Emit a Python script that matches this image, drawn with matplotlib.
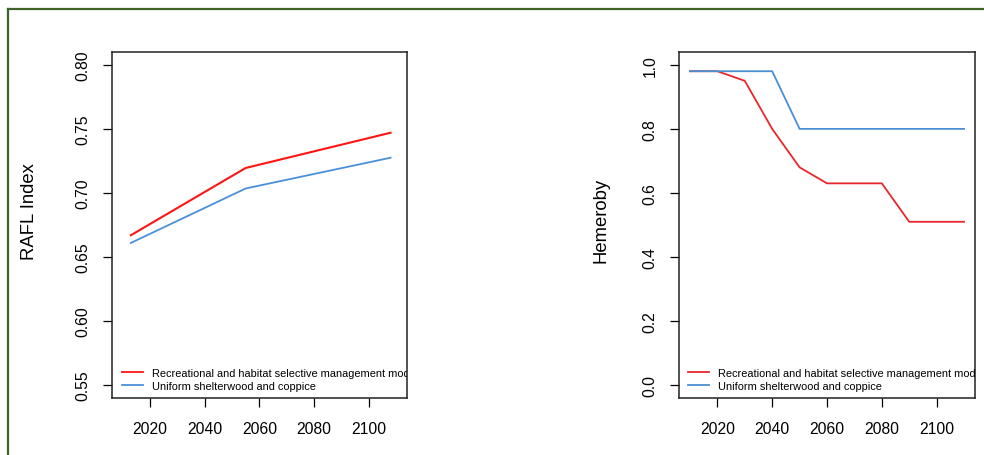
import matplotlib
matplotlib.use("Agg")
import matplotlib.pyplot as plt
from matplotlib.lines import Line2D

plt.rcParams['font.family'] = ['Liberation Sans', 'DejaVu Sans']

# ---- data ----
rafl_years = [2013, 2055, 2108]
rafl_recreational = [0.667, 0.7195, 0.747]
rafl_uniform = [0.661, 0.7035, 0.7275]

hem_years = [2010, 2020, 2030, 2040, 2050, 2060, 2070, 2080, 2090, 2100, 2110]
hem_recreational = [0.98, 0.98, 0.95, 0.80, 0.68, 0.63, 0.63, 0.63, 0.51, 0.51, 0.51]
hem_uniform = [0.98, 0.98, 0.98, 0.98, 0.80, 0.80, 0.80, 0.80, 0.80, 0.80, 0.80]

x_ticks = [2020, 2040, 2060, 2080, 2100]
rafl_yticks = [0.55, 0.60, 0.65, 0.70, 0.75, 0.80]
hem_yticks = [0.0, 0.2, 0.4, 0.6, 0.8, 1.0]

label_rec = "Recreational and habitat selective management mode"
label_uni = "Uniform shelterwood and coppice"

W, H = 984, 456
fig = plt.figure(figsize=(W / 100, H / 100), dpi=100)

# green frame
fig.add_artist(Line2D([8 / W, 8 / W], [0, 1 - 9.5 / H], transform=fig.transFigure,
                      color='#3e6428', lw=1.6))
fig.add_artist(Line2D([8 / W, 1], [1 - 9.5 / H, 1 - 9.5 / H], transform=fig.transFigure,
                      color='#3e6428', lw=1.6))


def style(ax, yticks, ylim):
    ax.set_xlim(2006, 2114)
    ax.set_ylim(*ylim)
    ax.set_xticks(x_ticks)
    ax.set_yticks(yticks)
    ax.set_yticklabels([f"{v:.2f}" if ylim[0] > 0 else f"{v:.1f}" for v in yticks],
                       rotation=90, va='center')
    ax.tick_params(axis='both', labelsize=11.3, length=6.8, width=0.9, color='black')
    ax.tick_params(axis='x', pad=10)
    ax.tick_params(axis='y', pad=8.5)
    for s in ax.spines.values():
        s.set_linewidth(1.1)
        s.set_color('#222222')


def legend(ax, c_rec, c_uni, xanchor):
    h = [Line2D([], [], color=c_rec, lw=1.3), Line2D([], [], color=c_uni, lw=1.3)]
    leg = ax.legend(h, [label_rec, label_uni], loc='lower left',
                    bbox_to_anchor=(xanchor, 0.02), frameon=False, fontsize=7.9,
                    handlelength=1.9, handletextpad=0.85, labelspacing=0.32,
                    borderpad=0, borderaxespad=0)
    for t in leg.get_texts():
        t.set_clip_on(True)
        t.set_clip_box(ax.bbox)


# left panel
ax1 = fig.add_axes([111.7 / W, 57 / H, 295.3 / W, 346 / H])
ax1.plot(rafl_years, rafl_recreational, color='#ff1414', lw=1.5)
ax1.plot(rafl_years, rafl_uniform, color='#4a90d9', lw=1.3)
style(ax1, rafl_yticks, (0.54, 0.81))
legend(ax1, '#ff1414', '#4a90d9', 0.034)
fig.text(30 / W, 1 - 212 / H, "RAFL Index", rotation=90, ha='center', va='center',
         fontsize=13.3)

# right panel
ax2 = fig.add_axes([679 / W, 57 / H, 296 / W, 346 / H])
ax2.plot(hem_years, hem_recreational, color='#e8262b', lw=1.3)
ax2.plot(hem_years, hem_uniform, color='#4a8fd4', lw=1.3)
style(ax2, hem_yticks, (-0.04, 1.04))
legend(ax2, '#e8262b', '#4a8fd4', 0.031)
fig.text(601 / W, 1 - 220 / H, "Hemeroby", rotation=90, ha='center', va='center',
         fontsize=13.3)

fig.savefig("out.png", dpi=100)
